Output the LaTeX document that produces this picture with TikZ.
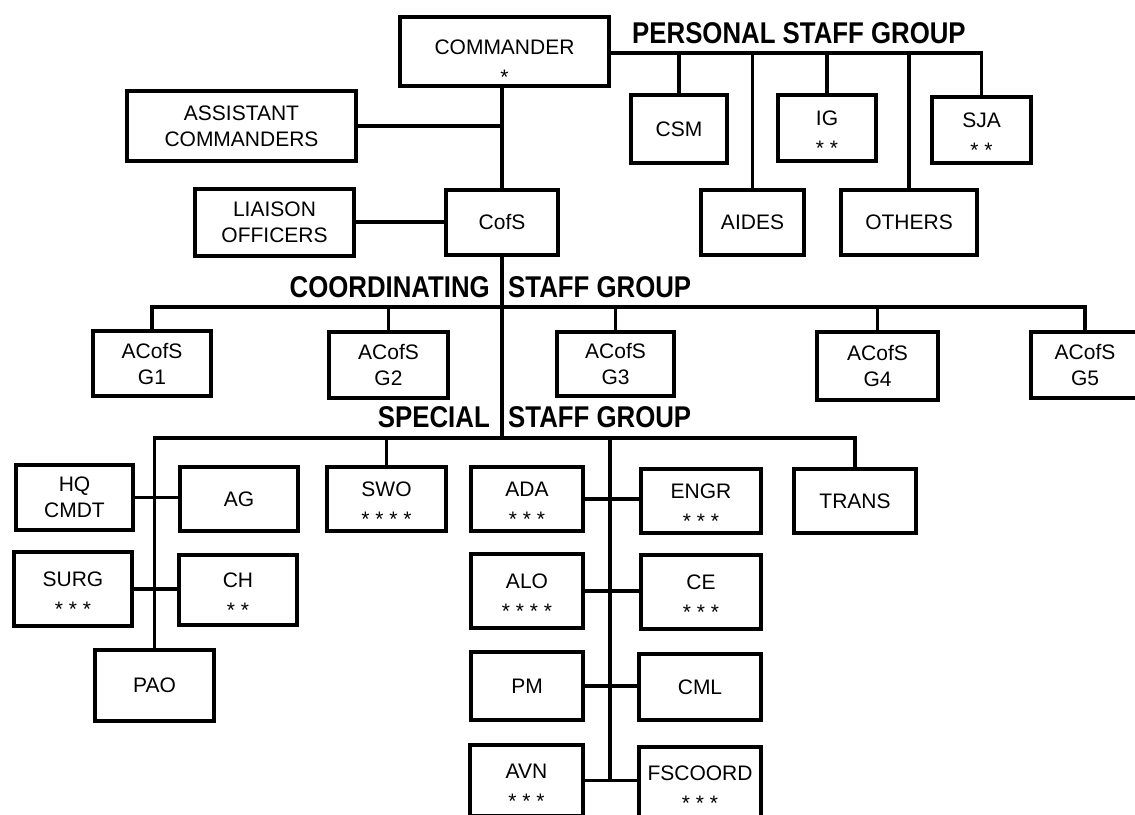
\documentclass[tikz,border=0pt]{standalone}
\usepackage{fontspec}
\setmainfont{Liberation Sans}
\usepackage{graphicx}
\newcommand{\grouptitle}[1]{\scalebox{0.86}[1]{#1}}
\newcommand{\tall}[1][25pt]{\rule{0pt}{#1}}

\begin{document}
\begin{tikzpicture}[x=1pt,y=-1pt,
  box/.style={draw,line width=4pt,inner sep=0pt,align=center,
    minimum width=118pt,minimum height=66pt,font=\fontsize{21}{26}\selectfont},
  wire/.style={line width=3.5pt},
  heading/.style={inner sep=0pt,font=\fontsize{30}{32}\selectfont\bfseries}]
  \useasboundingbox (0,0) rectangle (1135,814);

  % commander and personal staff
  \node[box,minimum width=209pt,minimum height=69pt] (cmdr) at (504.5,51.5) {\tall[35pt]COMMANDER\\[4pt]*};
  \node[box,minimum width=229pt,minimum height=70pt] (asst) at (241.5,126) {ASSISTANT\\COMMANDERS};
  \node[box,minimum width=159pt,minimum height=67pt] (liaison) at (274.5,222) {LIAISON\\OFFICERS};
  \node[box,minimum width=112pt,minimum height=65pt] (cofs) at (502,222.5) {CofS};
  \node[box,minimum width=96pt,minimum height=68pt] (csm) at (679,129) {CSM};
  \node[box,minimum width=98pt] (ig) at (827,128) {\tall IG\\[4pt]* *};
  \node[box,minimum width=99pt] (sja) at (981.5,130) {\tall SJA\\[4pt]* *};
  \node[box,minimum width=103pt,minimum height=65pt] (aides) at (752.5,222.5) {AIDES};
  \node[box,minimum width=136pt,minimum height=65pt] (others) at (909,222.5) {OTHERS};

  % coordinating staff
  \node[box,minimum height=65pt] (g1) at (152,363.5) {ACofS\\G1};
  \node[box,minimum width=119pt] (g2) at (388.5,365) {ACofS\\G2};
  \node[box,minimum width=117pt,minimum height=64pt] (g3) at (615.5,364) {ACofS\\G3};
  \node[box,minimum width=121pt,minimum height=68pt] (g4) at (877.5,366) {ACofS\\G4};
  \node[box,minimum width=108pt] (g5) at (1085,365) {ACofS\\G5};

  % special staff
  \node[box,minimum width=117pt,minimum height=65pt] (hq) at (74.5,497.5) {HQ\\CMDT};
  \node[box,minimum height=64pt] (ag) at (239,499) {AG};
  \node[box,minimum width=119pt,minimum height=64pt] (swo) at (386.5,499) {\tall SWO\\[4pt]* * * *};
  \node[box,minimum width=112pt,minimum height=64pt] (ada) at (527,499) {\tall ADA\\[4pt]* * *};
  \node[box,minimum width=120pt,minimum height=64pt] (engr) at (701,501) {\tall ENGR\\[4pt]* * *};
  \node[box,minimum width=122pt,minimum height=64pt] (trans) at (855,501) {TRANS};
  \node[box,minimum height=74pt] (surg) at (73,589) {\tall SURG\\[4pt]* * *};
  \node[box,minimum height=70pt] (ch) at (238,590) {\tall CH\\[4pt]* *};
  \node[box,minimum width=119pt,minimum height=71pt] (pao) at (154.5,685.5) {PAO};
  \node[box,minimum width=112pt,minimum height=74pt] (alo) at (527,591) {\tall ALO\\[4pt]* * * *};
  \node[box,minimum width=120pt,minimum height=74pt] (ce) at (701,592) {\tall CE\\[4pt]* * *};
  \node[box,minimum width=112pt,minimum height=68pt] (pm) at (527,686) {PM};
  \node[box,minimum width=122pt] (cml) at (700,687) {CML};
  \node[box,minimum width=113pt,minimum height=71pt] (avn) at (526.5,780.5) {\tall AVN\\[4pt]* * *};
  \node[box,minimum width=122pt,minimum height=71pt] (fscoord) at (700,782.5) {\tall FSCOORD\\[4pt]* * *};

  % group titles
  \node[heading,anchor=base west] (perst) at (632,43) {\grouptitle{PERSONAL STAFF GROUP}};
  \node[heading,anchor=base east] (coordl) at (490,297) {\grouptitle{COORDINATING}};
  \node[heading,anchor=base west] (coordr) at (508,297) {\grouptitle{STAFF GROUP}};
  \node[heading,anchor=base east] (specl) at (490,427) {\grouptitle{SPECIAL}};
  \node[heading,anchor=base west] (specr) at (508,427) {\grouptitle{STAFF GROUP}};

  \coordinate (pline) at (0,53);
  \coordinate (cline) at (0,307);
  \coordinate (sline) at (0,438);
  \coordinate (scol) at (610,438);

  \draw[wire] (cofs.north |- cmdr.south) -- (cofs.north);
  \draw[wire] (asst.east) -- (asst.east -| cofs.north);
  \draw[wire] (liaison.east) -- (liaison.east -| cofs.west);
  \draw[wire] (cmdr.east |- pline) -- (sja.north |- pline) -- (sja.north);
  \foreach \n in {csm,aides,ig,others}
    \draw[wire] (\n.north) -- (\n.north |- pline);

  \draw[wire] (cofs.south) -- (cofs.south |- sline);
  \draw[wire] (g1.north) -- (g1.north |- cline) -- (g5.north |- cline) -- (g5.north);
  \foreach \n in {g2,g3,g4}
    \draw[wire] (\n.north) -- (\n.north |- cline);

  \draw[wire] (pao.north) -- (pao.north |- sline) -- (trans.north |- sline) -- (trans.north);
  \draw[wire] (swo.north) -- (swo.north |- sline);
  \draw[wire] (scol) -- (scol |- avn.east);
  \foreach \a/\b in {hq/ag,surg/ch,ada/engr,alo/ce,pm/cml,avn/fscoord}
    \draw[wire] (\a.east) -- (\a.east -| \b.west);
\end{tikzpicture}
\end{document}
